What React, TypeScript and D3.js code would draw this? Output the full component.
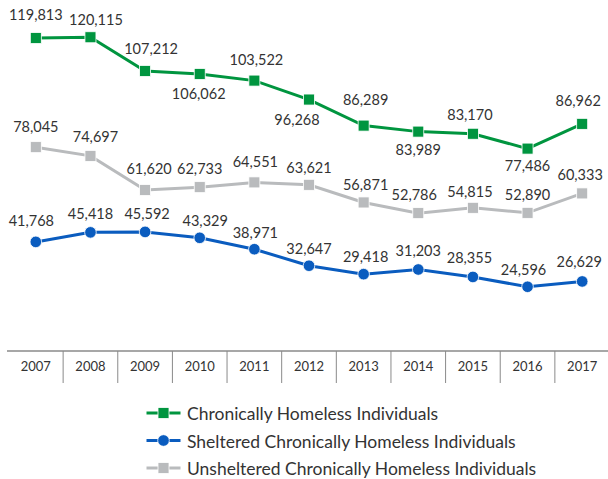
import React from "react";
import * as d3 from "d3";

const years = ["2007","2008","2009","2010","2011","2012","2013","2014","2015","2016","2017"];
const chronic = [119813,120115,107212,106062,103522,96268,86289,83989,83170,77486,86962];
const sheltered = [41768,45418,45592,43329,38971,32647,29418,31203,28355,24596,26629];
const unsheltered = [78045,74697,61620,62733,64551,63621,56871,52786,54815,52890,60333];
const seriesNames = ["Chronically Homeless Individuals","Sheltered Chronically Homeless Individuals","Unsheltered Chronically Homeless Individuals"];

// label placement nudges (dx, baseline dy relative to marker centre)
const chronicLabelDx = [0, 5.5, 6, -1, 2, -12, 2, 0, -3, 0, -4];
const chronicLabelDy = [-18.5, -12.7, -17, 25, -16, 25, -20.5, 23, -14, 22, -18];
const shelteredLabelDx = [-4.5, 0, 2, 5.5, 1, 0, 2, 0, -3.5, -4, -3];
const shelteredLabelDy = [-16, -13, -13, -11.7, -11, -12, -12, -13, -14, -12, -14];
const unshelteredLabelDx = [0, 5, 4, 0, 1, 0, 2, -4, -3, 0, -2];
const unshelteredLabelDy = [-15, -14, -16, -13, -15.5, -12, -12.5, -13, -11, -13, -13];

const GREEN = "#00953f";
const BLUE = "#0a5cbf";
const GRAY = "#b9bbbd";
const TEXT = "#333333";
const FONT = "Lato, 'Open Sans', sans-serif";

export default function App() {
  const W = 608, H = 479;
  const x = d3.scaleBand<string>().domain(years).range([8.5, 609.5]).padding(0);
  const cx = (i: number) => (x(years[i]) as number) + x.bandwidth() / 2;
  const y = d3.scaleLinear().domain([0, 133000]).range([351, 3.6]);
  const line = d3.line<number>().x((_, i) => cx(i)).y((d) => y(d));

  const series = [
    { name: seriesNames[0], data: chronic, color: GREEN, shape: "square", dx: chronicLabelDx, dy: chronicLabelDy },
    { name: seriesNames[1], data: sheltered, color: BLUE, shape: "circle", dx: shelteredLabelDx, dy: shelteredLabelDy },
    { name: seriesNames[2], data: unsheltered, color: GRAY, shape: "square", dx: unshelteredLabelDx, dy: unshelteredLabelDy },
  ];
  const drawOrder = [2, 1, 0];
  const fmt = d3.format(",");

  const marker = (shape: string, color: string, px: number, py: number, key: string) =>
    shape === "square" ? (
      <rect key={key} x={px - 5.5} y={py - 5.5} width={11} height={11} fill={color} stroke="#ffffff" strokeWidth={0.8} />
    ) : (
      <circle key={key} cx={px} cy={py} r={5.8} fill={color} stroke="#ffffff" strokeWidth={0.8} />
    );

  return (
    <svg width={W} height={H} style={{ position: "absolute", left: 0, top: 0, display: "block" }} fontFamily={FONT}>
      <rect x={0} y={0} width={W} height={H} fill="#ffffff" />
      {drawOrder.map((si) => {
        const s = series[si];
        return (
          <g key={s.name}>
            <path d={line(s.data) as string} fill="none" stroke={s.color} strokeWidth={3} />
            {s.data.map((v, i) => marker(s.shape, s.color, cx(i), y(v), `m${i}`))}
            {s.data.map((v, i) => (
              <text key={`t${i}`} x={cx(i) + s.dx[i]} y={y(v) + s.dy[i]} textAnchor="middle" fontSize={14.5} fill={TEXT}>
                {fmt(v)}
              </text>
            ))}
          </g>
        );
      })}
      {/* axis */}
      <line x1={7} x2={608} y1={351} y2={351} stroke="#8a8a8a" strokeWidth={1.3} />
      {years.slice(1).map((yr) => (
        <line key={`sep${yr}`} x1={(x(yr) as number)} x2={(x(yr) as number)} y1={351} y2={383} stroke="#8a8a8a" strokeWidth={1} />
      ))}
      {years.map((yr, i) => (
        <text key={`yl${yr}`} x={cx(i)} y={371} textAnchor="middle" fontSize={13} fill={TEXT}>
          {yr}
        </text>
      ))}
      {/* legend */}
      {series.map((s, i) => {
        const ly = 413 + i * 27.5;
        return (
          <g key={`lg${i}`}>
            <line x1={146.5} x2={180.5} y1={ly} y2={ly} stroke={s.color} strokeWidth={3} />
            {marker(s.shape, s.color, 163.5, ly, "lm")}
            <text x={187} y={ly + 7} fontSize={17.5} fill={TEXT}>{s.name}</text>
          </g>
        );
      })}
    </svg>
  );
}
